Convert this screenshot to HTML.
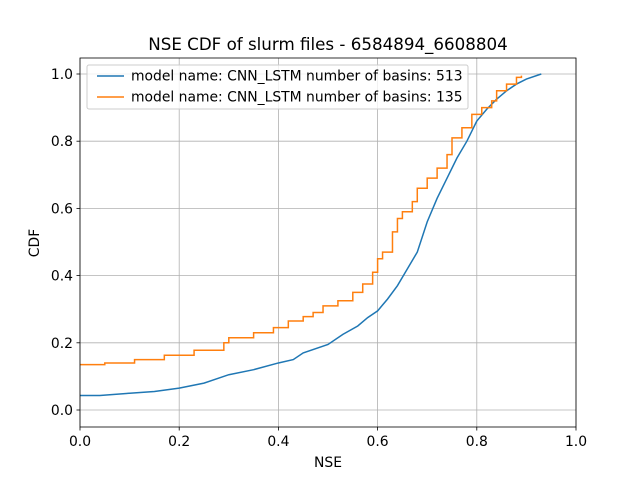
<!DOCTYPE html>
<html><head><meta charset="utf-8"><style>
body{margin:0;background:#fff}
svg{font-family:"DejaVu Sans","Liberation Sans",sans-serif}
</style></head><body>
<svg id="chart" width="640" height="480" viewBox="0 0 640 480">
<rect width="640" height="480" fill="#fff"/>
<g id="grid"></g>
<g id="series"></g>
<rect x="80" y="58" width="496" height="369" fill="none" stroke="#000" stroke-width="0.8"/>
<g id="ticks" font-size="13.9"></g>
<text x="328" y="50" text-anchor="middle" font-size="16.7">NSE CDF of slurm files - 6584894_6608804</text>
<text x="328" y="467" text-anchor="middle" font-size="13.9">NSE</text>
<text x="0" y="0" transform="translate(39,243) rotate(-90)" text-anchor="middle" font-size="13.9">CDF</text>
<g>
<rect x="87" y="65" width="381" height="44" rx="2" fill="#fff" fill-opacity="0.8" stroke="#ccc"/>
<line x1="97" y1="76" x2="124" y2="76" stroke="#1f77b4" stroke-width="1.5"/>
<text x="131" y="80.5" font-size="13.9">model name: CNN_LSTM number of basins: 513</text>
<line x1="97" y1="97" x2="124" y2="97" stroke="#ff7f0e" stroke-width="1.5"/>
<text x="131" y="101.5" font-size="13.9">model name: CNN_LSTM number of basins: 135</text>
</g>
</svg>
<script>
const xTicks=[0,0.2,0.4,0.6,0.8,1.0];
const yTicks=[0,0.2,0.4,0.6,0.8,1.0];
const blueX=[0,0.04,0.1,0.15,0.2,0.25,0.3,0.35,0.4,0.43,0.45,0.5,0.53,0.56,0.58,0.6,0.62,0.64,0.66,0.68,0.7,0.72,0.74,0.76,0.78,0.8,0.82,0.84,0.86,0.88,0.9,0.93];
const blueY=[0.043,0.043,0.05,0.055,0.065,0.08,0.105,0.12,0.14,0.15,0.17,0.195,0.225,0.25,0.275,0.295,0.33,0.37,0.42,0.47,0.56,0.63,0.69,0.75,0.8,0.86,0.895,0.925,0.95,0.97,0.985,1.0];
const orangeX=[0,0.05,0.11,0.17,0.23,0.29,0.3,0.35,0.39,0.42,0.45,0.47,0.49,0.52,0.55,0.57,0.59,0.6,0.61,0.63,0.64,0.65,0.67,0.68,0.7,0.72,0.74,0.75,0.77,0.79,0.81,0.83,0.84,0.86,0.88,0.89];
const orangeY=[0.135,0.14,0.15,0.163,0.178,0.2,0.215,0.23,0.245,0.265,0.278,0.29,0.31,0.325,0.35,0.375,0.41,0.45,0.47,0.53,0.57,0.59,0.62,0.66,0.69,0.72,0.76,0.81,0.84,0.88,0.9,0.92,0.95,0.97,0.99,0.995];
const NS='http://www.w3.org/2000/svg';
const sx=v=>80+v*496, sy=v=>410-v*336;
const grid=document.getElementById('grid'),ticks=document.getElementById('ticks'),ser=document.getElementById('series');
function mk(tag,attrs,parent){const e=document.createElementNS(NS,tag);for(const k in attrs)e.setAttribute(k,attrs[k]);parent.appendChild(e);return e;}
xTicks.forEach(t=>{
 const g=mk('line',{x1:sx(t),x2:sx(t),y1:58,y2:427,stroke:'#b0b0b0','stroke-width':0.8},grid);
 
 
 mk('line',{x1:sx(t),x2:sx(t),y1:427,y2:430.5,stroke:'#000','stroke-width':0.8},ticks);
 const l=mk('text',{x:sx(t),y:446,'text-anchor':'middle'},ticks);l.textContent=t.toFixed(1);
 
 
});
yTicks.forEach(t=>{
 const g=mk('line',{x1:80,x2:576,y1:sy(t),y2:sy(t),stroke:'#b0b0b0','stroke-width':0.8},grid);
 
 
 mk('line',{x1:76.5,x2:80,y1:sy(t),y2:sy(t),stroke:'#000','stroke-width':0.8},ticks);
 const l=mk('text',{x:73,y:sy(t)+5,'text-anchor':'end'},ticks);l.textContent=t.toFixed(1);
 
 
});
const bp=blueX.map((x,i)=>sx(x)+','+sy(blueY[i])).join(' ');
const b=mk('polyline',{points:bp,fill:'none',stroke:'#1f77b4','stroke-width':1.5},ser);


let op=[];orangeX.forEach((x,i)=>{if(i>0)op.push(sx(x)+','+sy(orangeY[i-1]));op.push(sx(x)+','+sy(orangeY[i]));});
const o=mk('polyline',{points:op.join(' '),fill:'none',stroke:'#ff7f0e','stroke-width':1.5},ser);


</script>
</body></html>
